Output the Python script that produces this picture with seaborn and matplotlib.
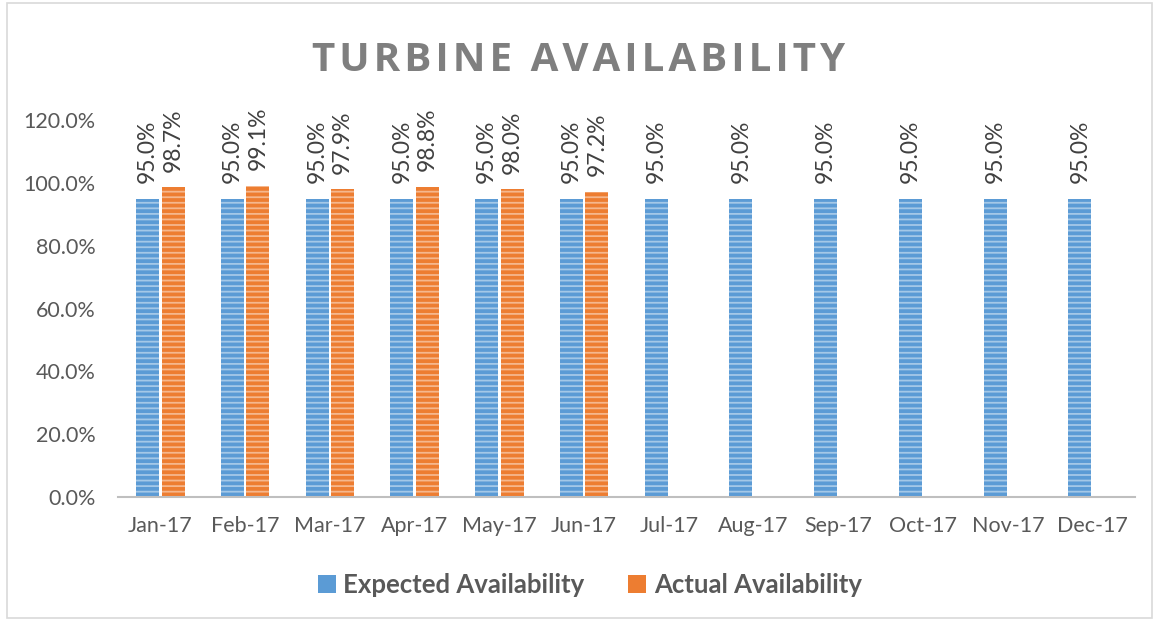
import pandas as pd
import numpy as np
import seaborn as sns
import matplotlib.pyplot as plt
from matplotlib.patches import Rectangle
from matplotlib.ticker import PercentFormatter

# data
months = ["Jan-17", "Feb-17", "Mar-17", "Apr-17", "May-17", "Jun-17",
          "Jul-17", "Aug-17", "Sep-17", "Oct-17", "Nov-17", "Dec-17"]
expected = [0.95] * 12
actual = [0.987, 0.991, 0.979, 0.988, 0.980, 0.972]

series = ["Expected Availability", "Actual Availability"]
colors = ["#5B9BD5", "#ED7D31"]

rows = [(m, series[0], v) for m, v in zip(months, expected)]
rows += [(m, series[1], v) for m, v in zip(months, actual)]
df = pd.DataFrame(rows, columns=["month", "series", "value"])

sns.set_style("white")
plt.rcParams["font.family"] = ["Lato", "DejaVu Sans"]
plt.rcParams["hatch.linewidth"] = 1.3

fig = plt.figure(figsize=(11.57, 6.24), dpi=100)
ax = fig.add_axes([0.102, 0.2035, 0.879, 0.6042])

sns.barplot(data=df, x="month", y="value", hue="series", order=months,
            hue_order=series, palette=colors, saturation=1, width=0.6, gap=0.1,
            linewidth=0, errorbar=None, ax=ax)

for cont in ax.containers:
    for bar in cont:
        bar.set_hatch("---")
        bar.set_edgecolor((1, 1, 1, 0.45))
        bar.set_linewidth(0)
        h = bar.get_height()
        if np.isnan(h):
            continue
        ax.annotate(f"{h * 100:.1f}%", (bar.get_x() + bar.get_width() / 2, h),
                    xytext=(0, 11), textcoords="offset points", rotation=90,
                    ha="center", va="bottom", fontsize=16.5, color="#404040")

ax.set_ylim(0, 1.2)
ax.set_yticks(np.arange(0, 1.21, 0.2))
ax.yaxis.set_major_formatter(PercentFormatter(1.0, decimals=1))
ax.set_xlim(-0.5, 11.5)
ax.set_xticks(np.arange(-0.5, 12, 1), minor=True)
ax.tick_params(axis="x", which="minor", length=6, color="#BFBFBF", width=1.5)
ax.tick_params(axis="x", which="major", length=0, pad=14)
ax.tick_params(axis="y", length=0, pad=16)
ax.tick_params(labelsize=15.5, labelcolor="#595959")
ax.set_xlabel("")
ax.set_ylabel("")
for side in ["top", "right", "left"]:
    ax.spines[side].set_visible(False)
ax.spines["bottom"].set_color("#BFBFBF")
ax.spines["bottom"].set_linewidth(1.5)

# letter-spaced title
title = "\u200a".join("TURBINE AVAILABILITY")
fig.suptitle(title, y=0.935, fontsize=29, family=["Open Sans", "DejaVu Sans"],
             fontweight="bold", color="#7F7F7F")

leg = ax.legend(loc="upper center", bbox_to_anchor=(0.464, -0.14), ncol=2,
                frameon=False, fontsize=18.5, handlelength=0.7, handleheight=0.7,
                columnspacing=1.7, handletextpad=0.3)
for t in leg.get_texts():
    t.set_fontweight("bold")
    t.set_color("#595959")

fig.patches.append(Rectangle((0.006, 0.01), 0.99, 0.985, transform=fig.transFigure,
                             fill=False, edgecolor="#D9D9D9", linewidth=1.2))

fig.savefig("out.png", dpi=100)
